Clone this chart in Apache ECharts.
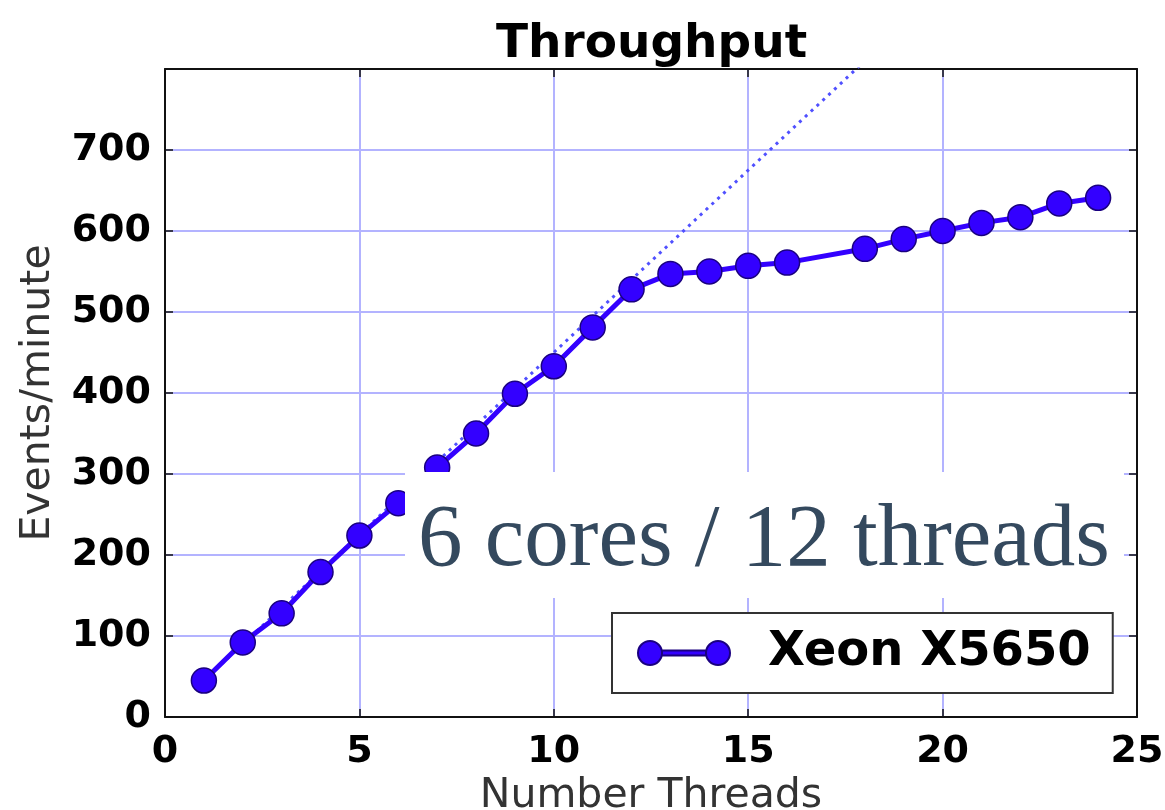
<!DOCTYPE html>
<html>
<head>
<meta charset="utf-8">
<script src="https://cdn.jsdelivr.net/npm/echarts@6/dist/echarts.min.js"></script>
<style>
html,body{margin:0;padding:0;background:#fff;}
#chart{width:1165px;height:810px;}
</style>
</head>
<body>
<div id="chart"></div>
<script>
// ---- data ----
const threads = [1,2,3,4,5,6,7,8,9,10,11,12,13,14,15,16,18,19,20,21,22,23,24];
const events  = [45,92,128,179,224,264,308,350,399,433,481,528,547,550,557,561,578,590,600,610,617,634,641];
// dotted ideal-scaling reference line (two end points)
const idealX = [1, 18];
const idealY = [45, 810];
const seriesName = 'Xeon X5650';
const titleText = 'Throughput';
const xName = 'Number Threads';
const yName = 'Events/minute';
const noteText = '6 cores / 12 threads';

const mainData = threads.map((t, i) => [t, events[i]]);
const idealData = idealX.map((x, i) => [x, idealY[i]]);

const BLUE = '#3300ff';
const tickFont = {fontFamily: 'DejaVu Sans', fontWeight: 'bold', fontSize: 38, color: '#000'};
const spine = {onZero: false, show: true, lineStyle: {color: '#111', width: 2}};
const ticks = {show: true, inside: true, length: 8, lineStyle: {color: '#111', width: 1.5}};
const grid = {show: true, showMinLine: false, showMaxLine: false, lineStyle: {color: '#b3b3ff', width: 2}};

const chart = echarts.init(document.getElementById('chart'), null, {renderer: 'canvas'});
chart.setOption({
  animation: false,
  backgroundColor: '#fff',
  title: {
    text: titleText, left: 491, top: 16,
    textStyle: {fontFamily: 'DejaVu Sans', fontWeight: 'bold', fontSize: 47, color: '#000'}
  },
  grid: {left: 165, right: 28, top: 69, bottom: 93, containLabel: false, outerBoundsMode: 'none'},
  xAxis: [{
    type: 'value', min: 0, max: 25, interval: 5,
    name: xName, nameLocation: 'middle', nameGap: 52,
    nameTextStyle: {fontFamily: 'DejaVu Sans', fontSize: 41, color: '#333'},
    axisLine: spine, axisTick: ticks,
    axisLabel: Object.assign({margin: 16}, tickFont),
    splitLine: grid
  }, {
    type: 'value', min: 0, max: 25, interval: 5, position: 'top',
    axisLine: spine, axisTick: ticks,
    axisLabel: {show: false}, splitLine: {show: false}
  }],
  yAxis: [{
    type: 'value', min: 0, max: 800, interval: 100,
    name: yName, nameLocation: 'middle', nameGap: 106, nameRotate: 90,
    nameTextStyle: {fontFamily: 'DejaVu Sans', fontSize: 41, color: '#333'},
    axisLine: spine, axisTick: ticks,
    axisLabel: Object.assign({margin: 14, showMaxLabel: false}, tickFont),
    splitLine: grid
  }, {
    type: 'value', min: 0, max: 800, interval: 100, position: 'right',
    axisLine: spine, axisTick: ticks,
    axisLabel: {show: false}, splitLine: {show: false}
  }],
  legend: {
    data: [{
      name: seriesName,
      icon: 'path://M0,12a12,12 0 1,0 24,0a12,12 0 1,0 -24,0Z M68,12a12,12 0 1,0 24,0a12,12 0 1,0 -24,0Z M24,9.5L68,9.5L68,14.5L24,14.5Z'
    }],
    left: 612, top: 613,
    itemWidth: 92, itemHeight: 24,
    padding: [16, 22, 16, 25],
    backgroundColor: '#fff',
    borderColor: '#333', borderWidth: 2, borderRadius: 0,
    selectedMode: false,
    formatter: '{a|{name}}',
    textStyle: {
      fontFamily: 'DejaVu Sans', fontWeight: 'bold', fontSize: 48, color: '#000',
      rich: {a: {fontFamily: 'DejaVu Sans', fontWeight: 'bold', fontSize: 48, color: '#000', padding: [0, 0, 0, 33], lineHeight: 52}}
    },
    z: 20
  },
  series: [{
    name: 'ideal', type: 'line', data: idealData,
    showSymbol: false, symbol: 'none', clip: true, silent: true,
    lineStyle: {color: '#5050ff', width: 3, type: [3, 5]},
    z: 1
  }, {
    name: seriesName, type: 'line', data: mainData,
    symbol: 'circle', symbolSize: 25, clip: false,
    lineStyle: {color: BLUE, width: 5},
    itemStyle: {color: BLUE, borderColor: '#1a0080', borderWidth: 1.5},
    z: 3
  }],
  graphic: [{
    type: 'rect', left: 405, top: 472, z: 100,
    shape: {width: 719, height: 126},
    style: {fill: '#fff'}
  }, {
    type: 'text', left: 418, top: 497, z: 101,
    style: {text: noteText, font: '89px "Liberation Serif", serif', fill: '#34495e'}
  }]
});
</script>
</body>
</html>
